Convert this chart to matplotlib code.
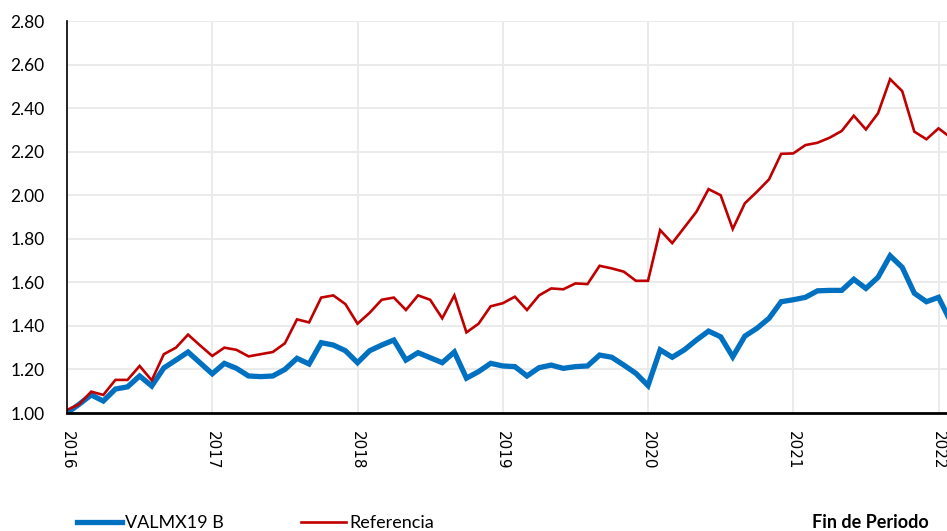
import matplotlib
matplotlib.use("Agg")
import matplotlib.pyplot as plt
import numpy as np

years = ["2016", "2017", "2018", "2019", "2020", "2021", "2022"]

valmx19b = [1.00, 1.04, 1.083, 1.055, 1.11, 1.12, 1.17, 1.124, 1.207, 1.243, 1.28, 1.23,
            1.18, 1.228, 1.205, 1.17, 1.167, 1.17, 1.20, 1.251, 1.225, 1.323, 1.312, 1.286,
            1.231, 1.286, 1.312, 1.335, 1.243, 1.277, 1.254, 1.231, 1.28, 1.16, 1.19, 1.228,
            1.216, 1.213, 1.17, 1.208, 1.22, 1.205, 1.213, 1.216, 1.266, 1.256, 1.22, 1.182,
            1.126, 1.29, 1.256, 1.29, 1.335, 1.376, 1.35, 1.258, 1.353, 1.389, 1.435, 1.511,
            1.52, 1.531, 1.561, 1.563, 1.563, 1.614, 1.572, 1.623, 1.722, 1.669, 1.55, 1.511,
            1.531, 1.42]

referencia = [1.014, 1.04, 1.098, 1.083, 1.152, 1.152, 1.216, 1.15, 1.27, 1.30, 1.36, 1.31,
              1.262, 1.30, 1.29, 1.26, 1.27, 1.28, 1.32, 1.43, 1.416, 1.53, 1.54, 1.50,
              1.41, 1.46, 1.52, 1.53, 1.473, 1.54, 1.52, 1.435, 1.54, 1.37, 1.41, 1.49,
              1.504, 1.534, 1.473, 1.54, 1.572, 1.568, 1.595, 1.592, 1.676, 1.664, 1.649, 1.607,
              1.607, 1.84, 1.78, 1.852, 1.924, 2.028, 2.00, 1.845, 1.963, 2.016, 2.073, 2.19,
              2.192, 2.23, 2.241, 2.264, 2.295, 2.365, 2.302, 2.376, 2.533, 2.478, 2.292, 2.257,
              2.307, 2.265]

months = np.arange(len(valmx19b))

W, H = 947, 531
fig = plt.figure(figsize=(W / 100, H / 100), dpi=100)
ax = fig.add_axes([67 / W, 1 - 413 / H, (W - 67) / W, (413 - 21) / H])

grid_c = "#EBEBEB"
ax.plot(months, valmx19b, color="#0070C0", lw=3.8, solid_joinstyle="miter", zorder=3,
        label="VALMX19 B")
ax.plot(months, referencia, color="#C00000", lw=1.9, solid_joinstyle="miter", zorder=4,
        label="Referencia")

ax.set_xlim(0, 72.7)
ax.set_ylim(1.0, 2.8)
ax.set_yticks(np.arange(1.0, 2.81, 0.2))
ax.set_yticklabels([f"{v:.2f}" for v in np.arange(1.0, 2.81, 0.2)],
                   fontfamily="Lato", fontsize=12.5)
ax.set_xticks(np.arange(0, 73, 12))
ax.set_xticklabels(years, rotation=270, fontfamily="DejaVu Sans", fontsize=11)
ax.tick_params(axis="y", length=0, pad=16)
ax.tick_params(axis="x", length=0, pad=13)

ax.grid(True, color=grid_c, lw=1.4, zorder=0)
ax.set_axisbelow(True)
for s in ["top", "right"]:
    ax.spines[s].set_visible(False)
ax.spines["left"].set_color("black")
ax.spines["left"].set_linewidth(1.2)
ax.spines["bottom"].set_color("black")
ax.spines["bottom"].set_linewidth(2.0)
ax.spines["left"].set_zorder(5)
ax.spines["bottom"].set_zorder(5)

leg = fig.legend(loc="center left", bbox_to_anchor=(77 / W, 1 - 523 / H), ncol=2,
                 frameon=False, borderpad=0, borderaxespad=0, handlelength=2.5,
                 handletextpad=0.15, columnspacing=4.3,
                 prop={"family": "Lato", "size": 13})
fig.text(812 / W, 1 - 523 / H, "Fin de Periodo", fontfamily="Lato", fontweight="bold",
         fontsize=13, va="center", ha="left")

fig.savefig("out.png", dpi=100)
